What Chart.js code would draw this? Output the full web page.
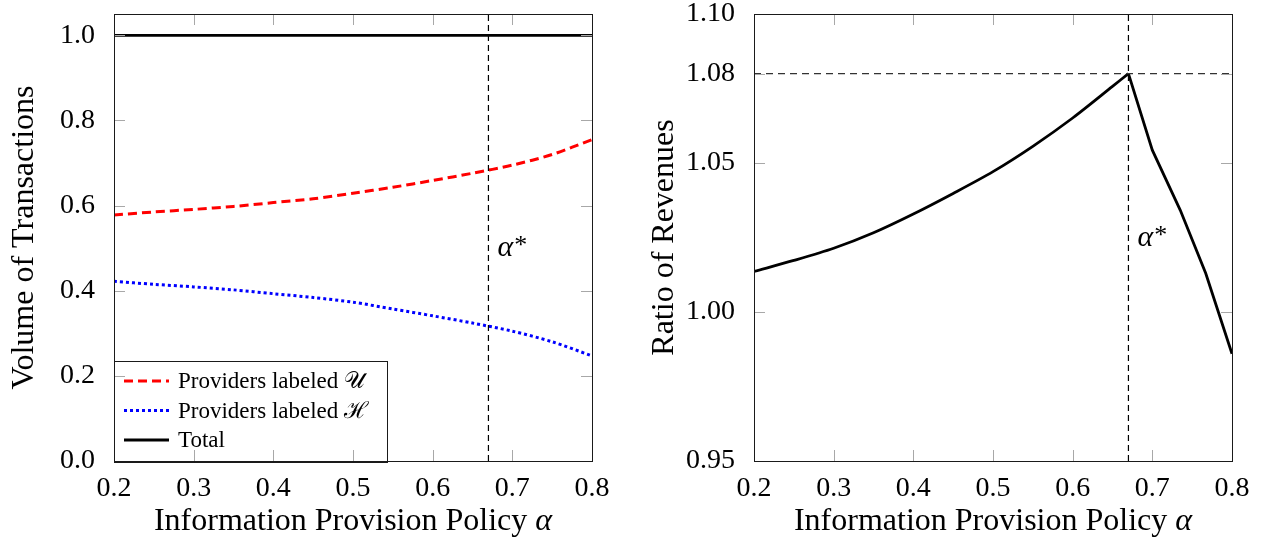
<!DOCTYPE html>
<html>
<head>
<meta charset="utf-8">
<title>Volume of Transactions / Ratio of Revenues</title>
<script src="https://cdn.jsdelivr.net/npm/chart.js@4.4.1/dist/chart.umd.min.js"></script>
<style>
  body { margin: 0; background: #fff; }
  .panel { position: absolute; top: 0; width: 631px; height: 541px; }
  #leftPanel { left: 0; }
  #rightPanel { left: 631px; }
</style>
</head>
<body>
<div class="panel" id="leftPanel"><canvas id="volumeChart" width="631" height="541"></canvas></div>
<div class="panel" id="rightPanel"><canvas id="ratioChart" width="631" height="541"></canvas></div>
<script>
// Values
const alphaGrid = [0.2, 0.25, 0.3, 0.35, 0.4, 0.45, 0.5, 0.55, 0.6, 0.65, 0.7, 0.75, 0.8];
const providersU = [0.578, 0.585, 0.591, 0.598, 0.607, 0.616, 0.629, 0.643, 0.659, 0.676, 0.695, 0.720, 0.755];
const providersH = [0.422, 0.415, 0.409, 0.402, 0.393, 0.384, 0.373, 0.357, 0.341, 0.324, 0.305, 0.280, 0.247];
const totalVolume = [1, 1, 1, 1, 1, 1, 1, 1, 1, 1, 1, 1, 1];

// revenue ratio: smooth rise up to alpha*, then a sharp fall
const risingAlpha = [0.2, 0.25, 0.3, 0.35, 0.4, 0.45, 0.5, 0.55, 0.6, 0.65, 0.67];
const risingRatio = [1.0136, 1.0173, 1.0214, 1.0266, 1.0329, 1.0398, 1.0471, 1.0556, 1.0651, 1.0757, 1.08];
const fallingAlpha = [0.67, 0.70, 0.735, 0.767, 0.8];
const fallingRatio = [1.08, 1.0543, 1.0342, 1.013, 0.986];

const alphaStar = 0.67;
const peakRatio = 1.08;

// Tick labels
const alphaTicks = [0.2, 0.3, 0.4, 0.5, 0.6, 0.7, 0.8];
const volumeTicks = [0, 0.2, 0.4, 0.6, 0.8, 1.0];
const ratioTicks = [0.95, 1.00, 1.05, 1.08, 1.10];

const SERIF = '"Liberation Serif", "DejaVu Serif", serif';
const toXY = (xs, ys) => xs.map((x, i) => ({ x: x, y: ys[i] }));

// pgfplots-like box with inward ticks on all four sides
const pgfAxes = {
    id: 'pgfAxes',
    afterDraw(chart) {
        const { ctx, chartArea: a, scales: { x, y } } = chart;
        const len = 11;
        ctx.save();
        ctx.strokeStyle = '#a8a8a8';
        ctx.lineWidth = 1;
        ctx.beginPath();
        x.ticks.forEach(t => {
            const px = Math.round(x.getPixelForValue(t.value)) + 0.5;
            ctx.moveTo(px, a.bottom); ctx.lineTo(px, a.bottom - len);
            ctx.moveTo(px, a.top); ctx.lineTo(px, a.top + len);
        });
        y.ticks.forEach(t => {
            const py = Math.round(y.getPixelForValue(t.value)) + 0.5;
            ctx.moveTo(a.left, py); ctx.lineTo(a.left + len, py);
            ctx.moveTo(a.right, py); ctx.lineTo(a.right - len, py);
        });
        ctx.stroke();
        ctx.strokeStyle = '#1a1a1a';
        ctx.strokeRect(Math.round(a.left) + 0.5, Math.round(a.top) + 0.5,
            Math.round(a.right - a.left), Math.round(a.bottom - a.top));
        ctx.restore();
    }
};

// Axis titles, with the math symbol in italic
const axisTitles = {
    id: 'axisTitles',
    afterDraw(chart, args, opts) {
        const { ctx, chartArea: a } = chart;
        ctx.save();
        ctx.fillStyle = '#000';
        ctx.textBaseline = 'alphabetic';
        // x title
        ctx.font = '32px ' + SERIF;
        const w1 = ctx.measureText(opts.xText).width;
        ctx.font = 'italic 32px ' + SERIF;
        const w2 = ctx.measureText(opts.xMath).width;
        let tx = (a.left + a.right) / 2 - (w1 + w2) / 2;
        ctx.font = '32px ' + SERIF;
        ctx.fillText(opts.xText, tx, 530);
        ctx.font = 'italic 32px ' + SERIF;
        ctx.fillText(opts.xMath, tx + w1, 530);
        // y title
        ctx.translate(opts.yBase, (a.top + a.bottom) / 2);
        ctx.rotate(-Math.PI / 2);
        ctx.font = '32px ' + SERIF;
        ctx.textAlign = 'center';
        ctx.fillText(opts.yText, 0, 0);
        ctx.restore();
    }
};

// Boxed legend in the lower-left corner of the plot
const boxLegend = {
    id: 'boxLegend',
    afterDraw(chart, args, opts) {
        if (!opts.show) return;
        const { ctx, chartArea: a } = chart;
        const items = chart.data.datasets.filter(d => !d.label.startsWith('_'));
        const rowH = 29.5, sample = 45;
        ctx.save();
        ctx.font = '23px ' + SERIF;
        const textW = Math.max(...items.map(d => ctx.measureText(d.label).width));
        const w = 10 + sample + 9 + textW + 19;
        const h = items.length * rowH + 12;
        const left = a.left, top = a.bottom - h;
        ctx.fillStyle = '#fff';
        ctx.fillRect(left, top, w, h);
        ctx.strokeStyle = '#1a1a1a';
        ctx.lineWidth = 1;
        ctx.strokeRect(Math.round(left) + 0.5, Math.round(top) + 0.5, Math.round(w), Math.round(h));
        items.forEach((d, i) => {
            const cy = top + 20.5 + i * rowH;
            ctx.strokeStyle = d.borderColor;
            ctx.lineWidth = d.borderWidth;
            ctx.setLineDash(d.borderDash || []);
            ctx.beginPath();
            ctx.moveTo(left + 10, cy);
            ctx.lineTo(left + 10 + sample, cy);
            ctx.stroke();
            ctx.setLineDash([]);
            ctx.fillStyle = '#000';
            ctx.textBaseline = 'middle';
            ctx.fillText(d.label, left + 10 + sample + 9, cy + 1);
        });
        ctx.restore();
    }
};

// alpha* annotation next to the vertical dashed line
const starLabel = {
    id: 'starLabel',
    afterDatasetsDraw(chart, args, opts) {
        const { ctx, scales: { x, y } } = chart;
        const px = x.getPixelForValue(alphaStar) + 9;
        const py = y.getPixelForValue(opts.y);
        ctx.save();
        ctx.fillStyle = '#000';
        ctx.textBaseline = 'alphabetic';
        ctx.font = 'italic 30px ' + SERIF;
        ctx.fillText('α', px, py + 8);
        const aw = ctx.measureText('α').width;
        ctx.font = '26px ' + SERIF;
        ctx.fillText('*', px + aw + 1, py + 5);
        ctx.restore();
    }
};

function alphaAxis() {
    return {
        type: 'linear',
        min: 0.2,
        max: 0.8,
        afterBuildTicks: s => { s.ticks = alphaTicks.map(v => ({ value: v })); },
        afterFit: s => { s.height = 80; s.paddingLeft = 0; s.paddingRight = 0; },
        grid: { display: false },
        border: { display: false },
        ticks: {
            color: '#000',
            padding: 3,
            maxRotation: 0,
            font: { family: SERIF, size: 28 },
            callback: v => v.toFixed(1)
        }
    };
}

function valueAxis(min, max, tickValues, digits, width) {
    return {
        type: 'linear',
        min: min,
        max: max,
        afterBuildTicks: s => { s.ticks = tickValues.map(v => ({ value: v })); },
        afterFit: s => { s.width = width; s.paddingTop = 0; s.paddingBottom = 0; },
        grid: { display: false },
        border: { display: false },
        ticks: {
            color: '#000',
            padding: 11,
            font: { family: SERIF, size: 28 },
            callback: v => v.toFixed(digits)
        }
    };
}

Chart.defaults.animation = false;
Chart.defaults.devicePixelRatio = 1;

// Left panel: volume of transactions
new Chart(document.getElementById('volumeChart'), {
    type: 'line',
    data: {
        datasets: [
            {
                label: '_alphaStar',
                data: [{ x: alphaStar, y: 0 }, { x: alphaStar, y: 1.05 }],
                borderColor: '#000',
                borderWidth: 1.2,
                borderDash: [6, 4]
            },
            {
                label: 'Providers labeled 𝒰',
                data: toXY(alphaGrid, providersU),
                borderColor: '#ff0000',
                borderWidth: 3,
                borderDash: [9, 5],
                tension: 0.3
            },
            {
                label: 'Providers labeled ℋ',
                data: toXY(alphaGrid, providersH),
                borderColor: '#0000ff',
                borderWidth: 3,
                borderDash: [3, 3],
                tension: 0.3
            },
            {
                label: 'Total',
                data: toXY(alphaGrid, totalVolume),
                borderColor: '#000',
                borderWidth: 2.8
            }
        ]
    },
    options: {
        responsive: false,
        parsing: false,
        layout: { padding: { top: 14, right: 39, left: 0, bottom: 0 } },
        elements: { point: { radius: 0 }, line: { tension: 0 } },
        scales: {
            x: alphaAxis(),
            y: valueAxis(0, 1.05, volumeTicks, 1, 114)
        },
        plugins: {
            legend: { display: false },
            tooltip: { enabled: false },
            boxLegend: { show: true },
            starLabel: { y: 0.5 },
            axisTitles: { xText: 'Information Provision Policy ', xMath: 'α', yText: 'Volume of Transactions', yBase: 33 }
        }
    },
    plugins: [starLabel, boxLegend, pgfAxes, axisTitles]
});

// Right panel: ratio of revenues
new Chart(document.getElementById('ratioChart'), {
    type: 'line',
    data: {
        datasets: [
            {
                label: '_alphaStar',
                data: [{ x: alphaStar, y: 0.95 }, { x: alphaStar, y: 1.10 }],
                borderColor: '#000',
                borderWidth: 1.2,
                borderDash: [6, 4]
            },
            {
                label: '_peak',
                data: [{ x: 0.2, y: peakRatio }, { x: 0.8, y: peakRatio }],
                borderColor: '#333',
                borderWidth: 1.2,
                borderDash: [7, 5]
            },
            {
                label: 'Ratio of Revenues (rising)',
                data: toXY(risingAlpha, risingRatio),
                borderColor: '#000',
                borderWidth: 2.8,
                tension: 0.3
            },
            {
                label: 'Ratio of Revenues (falling)',
                data: toXY(fallingAlpha, fallingRatio),
                borderColor: '#000',
                borderWidth: 2.8,
                borderJoinStyle: 'miter'
            }
        ]
    },
    options: {
        responsive: false,
        parsing: false,
        layout: { padding: { top: 14, right: 30, left: 0, bottom: 0 } },
        elements: { point: { radius: 0 }, line: { tension: 0 } },
        scales: {
            x: alphaAxis(),
            y: valueAxis(0.95, 1.10, ratioTicks, 2, 123)
        },
        plugins: {
            legend: { display: false },
            tooltip: { enabled: false },
            boxLegend: { show: false },
            starLabel: { y: 1.025 },
            axisTitles: { xText: 'Information Provision Policy ', xMath: 'α', yText: 'Ratio of Revenues', yBase: 42 }
        }
    },
    plugins: [starLabel, boxLegend, pgfAxes, axisTitles]
});
</script>
</body>
</html>
